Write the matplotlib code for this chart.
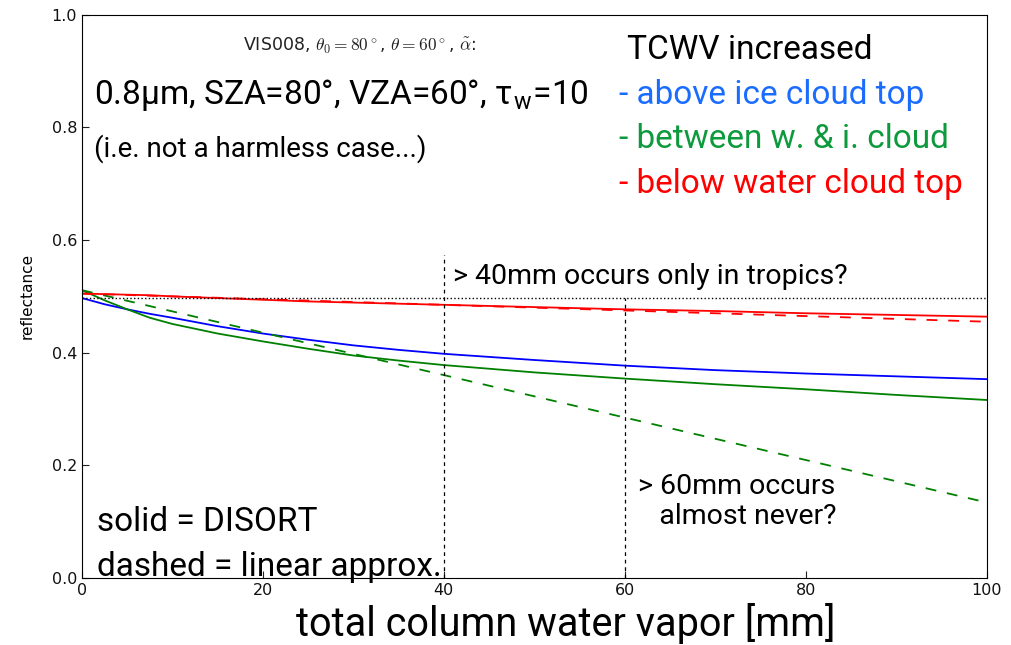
import matplotlib
matplotlib.use('Agg')
import matplotlib.pyplot as plt

plt.rcParams['mathtext.fontset'] = 'cm'

# TCWV [mm]
tcwv = [0, 2.5, 5, 7.5, 10, 15, 20, 25, 30, 35, 40, 50, 60, 70, 80, 90, 100]

# DISORT reflectances (solid)
refl_above_ice = [0.497, 0.486, 0.477, 0.469, 0.462, 0.447, 0.434, 0.423, 0.413,
                  0.405, 0.398, 0.387, 0.377, 0.369, 0.363, 0.358, 0.353]
refl_between = [0.511, 0.493, 0.477, 0.462, 0.451, 0.434, 0.420, 0.407, 0.395,
                0.386, 0.378, 0.365, 0.354, 0.344, 0.335, 0.325, 0.316]
refl_below_water = [0.505, 0.504, 0.503, 0.502, 0.500, 0.497, 0.494, 0.491, 0.489,
                    0.487, 0.485, 0.481, 0.477, 0.474, 0.470, 0.467, 0.464]

# linear approximation (dashed), end points
lin_x = [0, 100]
lin_between = [0.511, 0.134]
lin_below_water = [0.505, 0.455]

ref_level = 0.497
vline_40_top = 0.573
vline_60_top = 0.497

fig = plt.figure(figsize=(10.12, 6.45), dpi=100)
ax = fig.add_axes([0.081, 0.104, 0.894, 0.873])

ax.plot(tcwv, refl_above_ice, color='b', lw=1.3)
ax.plot(tcwv, refl_between, color='g', lw=1.3)
ax.plot(tcwv, refl_below_water, color='r', lw=1.3)
ax.plot(lin_x, lin_between, color='g', lw=1.3, ls='--', dashes=(6, 6))
ax.plot(lin_x, lin_below_water, color='r', lw=1.3, ls='--', dashes=(6, 6))
ax.plot(lin_x, [ref_level, ref_level], color='k', lw=1, ls=':')

ax.plot([40, 40], [0, vline_40_top], color='k', lw=0.9, ls='--', dashes=(3, 3))
ax.plot([60, 60], [0, vline_60_top], color='k', lw=0.9, ls='--', dashes=(3, 3))

ax.set_xlim(0, 100)
ax.set_ylim(0, 1.0)
ax.set_xticks([0, 20, 40, 60, 80, 100])
ax.set_yticks([0.0, 0.2, 0.4, 0.6, 0.8, 1.0])
ax.tick_params(labelsize=11.5, direction='in', length=5, colors='#222222')
for lab in ax.get_xticklabels() + ax.get_yticklabels():
    lab.set_color('#111111')
ax.set_ylabel('reflectance', fontsize=11, labelpad=12)
ax.set_xlabel('total column water vapor [mm]', fontsize=28.5, family='Roboto')
ax.xaxis.set_label_coords(0.535, -0.045)

ax.text(0.178, 0.945, r'VIS008, $\theta_0=80^\circ$, $\theta=60^\circ$, $\tilde\alpha$:',
        transform=ax.transAxes, fontsize=12.5, color='#222222', va='center')

rf = 'Roboto'
big = 24
ax.text(0.013, 0.858, r'0.8μm, SZA=80°, VZA=60°, τ$_\mathregular{w}$=10',
        transform=ax.transAxes, fontsize=big, family=rf, va='center')
ax.text(0.013, 0.762, '(i.e. not a harmless case...)',
        transform=ax.transAxes, fontsize=20, family=rf, va='center')

ax.text(0.602, 0.937, 'TCWV increased', transform=ax.transAxes,
        fontsize=big, family=rf, va='center')
ax.text(0.594, 0.858, '- above ice cloud top', transform=ax.transAxes,
        fontsize=big, family=rf, va='center', color='#1a6cff')
ax.text(0.594, 0.779, '- between w. & i. cloud', transform=ax.transAxes,
        fontsize=big, family=rf, va='center', color='#0d9a3c')
ax.text(0.594, 0.700, '- below water cloud top', transform=ax.transAxes,
        fontsize=big, family=rf, va='center', color='#ff0000')

ax.text(41.0, 0.535, '> 40mm occurs only in tropics?', fontsize=20.5, family=rf, va='center')
ax.text(61.5, 0.135, '> 60mm occurs\n   almost never?', fontsize=20.5, family=rf,
        va='center', linespacing=1.15)

ax.text(1.7, 0.099, 'solid = DISORT', fontsize=big, family=rf, va='center')
ax.text(1.7, 0.020, 'dashed = linear approx.', fontsize=big, family=rf, va='center')

fig.savefig('out.png', dpi=100)
